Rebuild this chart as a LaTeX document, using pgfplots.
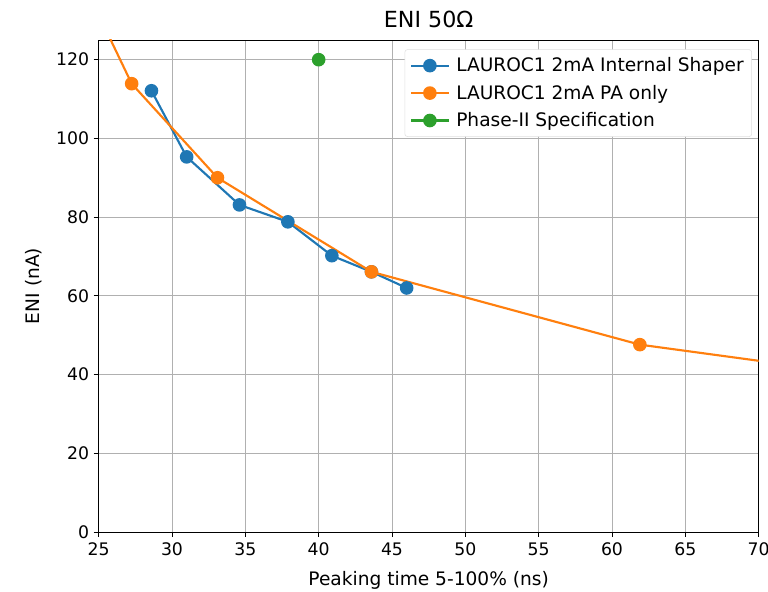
\documentclass[border=0pt]{standalone}
\usepackage{pgfplots}
\pgfplotsset{compat=1.18}
\usepackage{fontspec}
\setmainfont{DejaVu Sans}
\definecolor{c0}{HTML}{1F77B4}
\definecolor{c1}{HTML}{FF7F0E}
\definecolor{c2}{HTML}{2CA02C}
\definecolor{gridc}{HTML}{B0B0B0}
\begin{document}
\begin{tikzpicture}
\path[use as bounding box] (-74bp,-45bp) rectangle (502bp,399bp);
\begin{axis}[
    at={(0,0)}, anchor=south west,
    scale only axis,
    width=495bp, height=369bp,
    xmin=25, xmax=70, ymin=0, ymax=125,
    xtick={25,30,...,70}, ytick={0,20,...,120},
    grid=major,
    major grid style={gridc, line width=0.6bp},
    tick align=outside, tick pos=left,
    major tick length=3.7bp,
    every tick/.style={black, line width=0.6bp},
    axis line style={line width=0.6bp},
    /pgf/number format/assume math mode=true,
    tick label style={font=\fontsize{13}{15}\selectfont},
    xticklabel style={yshift=-1bp},
    label style={font=\fontsize{14}{16}\selectfont},
    xlabel style={yshift=-4.5bp},
    ylabel style={yshift=4bp},
    xlabel={Peaking time 5-100\% (ns)},
    ylabel={ENI (nA)},
    title={ENI 50Ω},
    title style={font=\fontsize{16.7}{19}\selectfont},
    legend style={at={(rel axis cs:1,1)}, anchor=north east, xshift=-5bp, yshift=-7bp,
        draw=gray!25, rounded corners=2bp, fill=white,
        font=\fontsize{14}{16}\selectfont, row sep=4.5bp, column sep=3bp, inner sep=4bp},
    legend cell align=left,
    legend image code/.code={\draw[mark repeat=2, mark phase=2] plot coordinates {(0bp,0bp) (14bp,0bp) (28bp,0bp)};},
    every axis plot/.append style={line width=1.6bp, mark=*, mark size=4.3bp},
]
\addplot[c0, mark options={solid, draw=none, fill=c0}] coordinates {
(28.6,112.1) (31.0,95.3) (34.6,83.1) (37.9,78.8) (40.9,70.2) (43.6,66.1) (46.0,62.0)
};
\addlegendentry{LAUROC1 2mA Internal Shaper}
\addplot[c1, mark options={solid, draw=none, fill=c1}] coordinates {
(27.25,113.9) (33.1,90.0) (43.6,66.1) (61.9,47.6)
};
\addlegendentry{LAUROC1 2mA PA only}
\addplot[c1, mark=none, forget plot] coordinates {
(25.0,131.4) (27.25,113.9)
};
\addplot[c1, mark=none, forget plot] coordinates {
(61.9,47.6) (70.0,43.5)
};
\addplot[c2, mark options={solid, draw=none, fill=c2}] coordinates {
(40.0,120.0)
};
\addlegendentry{Phase-II Specification}
\end{axis}
\end{tikzpicture}
\end{document}
